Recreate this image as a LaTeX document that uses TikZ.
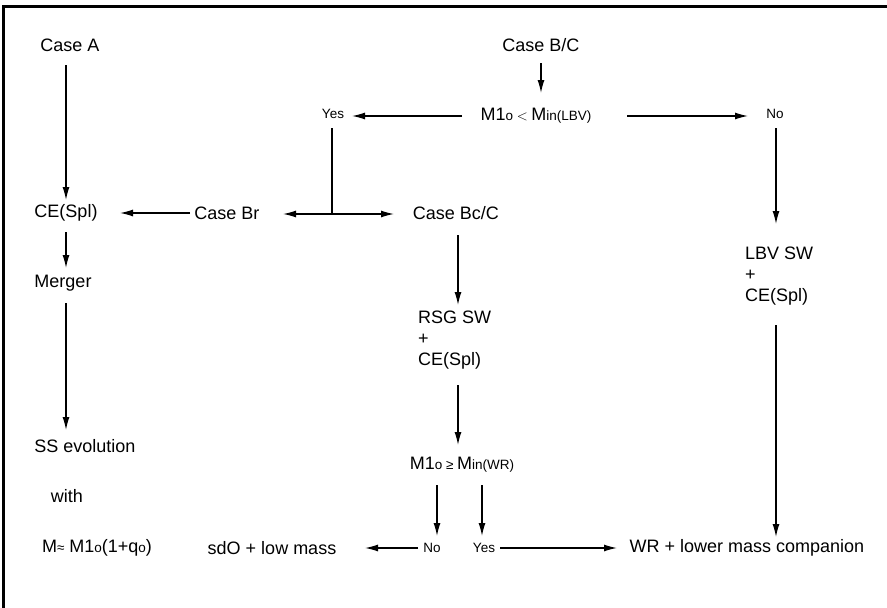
\documentclass[tikz,border=0pt]{standalone}
\usepackage{fontspec}
\setmainfont{Liberation Sans}
\usetikzlibrary{arrows.meta,calc}
\newcommand{\bigf}{\fontsize{18}{21}\selectfont}
\newcommand{\smf}{\fontsize{13.5}{16}\selectfont}
\begin{document}
\begin{tikzpicture}[x=1pt,y=-1pt,
  every node/.style={inner sep=0pt, font=\bigf},
  sm/.style={font=\smf},
  arr/.style={draw, line width=1.3pt, -{Latex[length=13pt,width=7pt]}},
  ln/.style={draw, line width=1.3pt}]
\useasboundingbox (0,0) rectangle (887,608);
\draw[line width=3pt] (3.5,608) -- (3.5,6) -- (887,6);

% nodes
\node (caseA) at (70,45) {Case A};
\node (caseBC) at (541,45) {Case B/C};
\node (m1lbv) at (536,116) {M1{\smf o $<$ }M{\smf in(LBV)}};
\node[sm] (yes1) at (333,114) {Yes};
\node[sm] (no1) at (775,114) {No};
\node (ceA) at (66,213) {CE(Spl)};
\node (caseBr) at (227,213) {Case Br};
\node (caseBc) at (456,213) {Case Bc/C};
\node (merger) at (63,283) {Merger};
\node (ss) at (85,446) {SS evolution};
\node (with) at (67,496) {with};
\node (mapprox) at (97,548) {M{\smf ≈} M1{\smf o}(1+q{\smf o})};
\node[anchor=west, align=left] (rsg) at (418,340) {RSG SW\\+\\CE(Spl)};
\node[anchor=west, align=left] (lbv) at (745,276) {LBV SW\\+\\CE(Spl)};
\node (m1wr) at (462,465) {M1{\smf o ≥ }M{\smf in(WR)}};
\node[sm] (no2) at (432,548) {No};
\node[sm] (yes2) at (484,548) {Yes};
\node (sdo) at (272,548) {sdO + low mass};
\node (wr) at (747,548) {WR + lower mass companion};

% connectors
\draw[arr] ($(caseA)+(-4,20)$) -- ($(ceA)+(0,-13)$);
\draw[arr] ($(caseBC)+(0,18)$) -- ($(m1lbv)+(5,-23)$);
\draw[arr] ($(m1lbv)+(-74,0)$) -- ($(yes1)+(19,2)$);
\draw[arr] ($(m1lbv)+(91,0)$) -- ($(no1)+(-27,2)$);
\coordinate (j) at ($(yes1)+(-1,100)$);
\draw[ln] ($(yes1)+(-1,14)$) -- (j);
\draw[arr] (j) -- ($(caseBr)+(56,1)$);
\draw[arr] (j) -- ($(caseBc)+(-62,1)$);
\draw[arr] ($(caseBr)+(-37,0)$) -- ($(ceA)+(54,0)$);
\draw[arr] ($(ceA)+(0,19)$) -- ($(merger)+(3,-15)$);
\draw[arr] ($(merger)+(3,20)$) -- ($(ss)+(-19,-16)$);
\draw[arr] ($(caseBc)+(2,22)$) -- ($(rsg.west)+(40,-35)$);
\draw[arr] ($(rsg.west)+(40,45)$) -- ($(m1wr)+(-4,-20)$);
\draw[arr] ($(m1wr)+(-25,20)$) -- ($(no2)+(5,-12)$);
\draw[arr] ($(m1wr)+(20,20)$) -- ($(yes2)+(-2,-12)$);
\draw[arr] ($(no2)+(-14,0)$) -- ($(sdo)+(93,0)$);
\draw[arr] ($(yes2)+(16,0)$) -- ($(wr)+(-130,0)$);
\draw[arr] ($(no1)+(1,14)$) -- ($(lbv.west)+(31,-52)$);
\draw[arr] ($(lbv.west)+(31,49)$) -- ($(wr)+(29,-11)$);
\end{tikzpicture}
\end{document}
